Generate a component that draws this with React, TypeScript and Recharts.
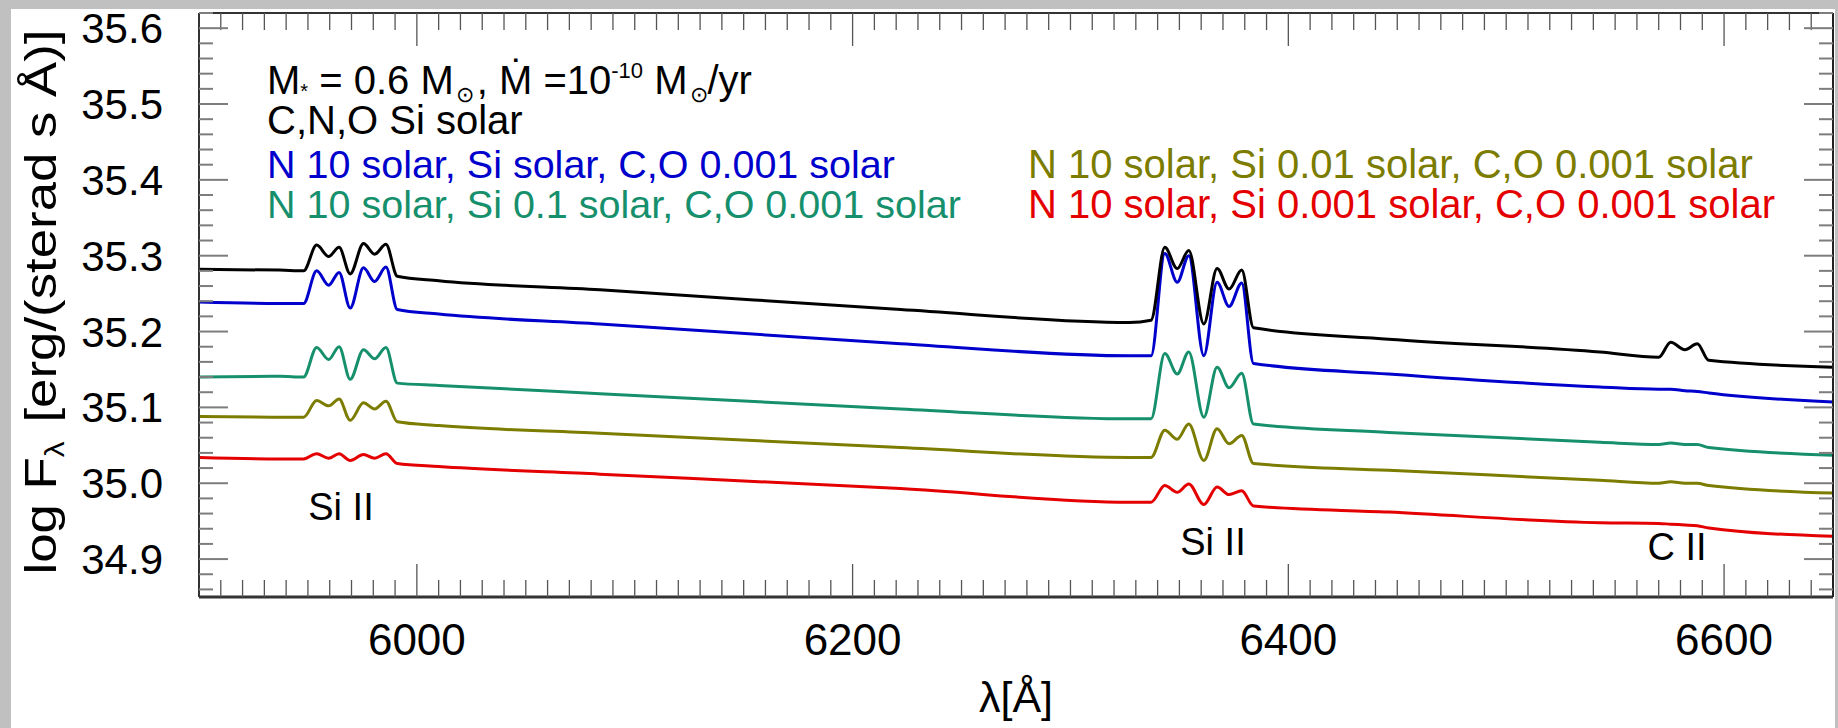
import React from "react"
import { LineChart, Line, XAxis, YAxis } from "recharts"

// Wavelength grid (Å) the spectra are sampled on
const wavelengths = [
  5900, 5937, 5948, 5954, 5959.5, 5964.3, 5969.4, 5975.5, 5980.6, 5985.8, 5991,
  6010, 6084, 6222, 6327, 6337, 6343.3, 6349, 6354.3, 6361.2, 6367.3, 6372.8,
  6378.6, 6384, 6446, 6543, 6570, 6575.5, 6582, 6587.7, 6593, 6650,
]

// log F_lambda for each abundance set
const fluxSolar = [
  35.282, 35.281, 35.28, 35.314, 35.299, 35.311, 35.276, 35.316, 35.302, 35.315, 35.273,
  35.267, 35.255, 35.229, 35.212, 35.215, 35.311, 35.283, 35.307, 35.21, 35.283, 35.256,
  35.281, 35.205, 35.19, 35.173, 35.166, 35.186, 35.176, 35.184, 35.162, 35.153,
]
const fluxNSiSolar = [
  35.239, 35.237, 35.237, 35.28, 35.261, 35.278, 35.231, 35.284, 35.266, 35.285, 35.229,
  35.223, 35.21, 35.184, 35.168, 35.168, 35.303, 35.265, 35.3, 35.168, 35.265, 35.233,
  35.264, 35.158, 35.144, 35.127, 35.124, 35.124, 35.122, 35.121, 35.119, 35.107,
]
const fluxSi01 = [
  35.14, 35.141, 35.14, 35.179, 35.163, 35.18, 35.137, 35.176, 35.164, 35.179, 35.132,
  35.129, 35.118, 35.098, 35.085, 35.085, 35.171, 35.144, 35.173, 35.087, 35.153, 35.126,
  35.145, 35.078, 35.067, 35.054, 35.051, 35.053, 35.051, 35.051, 35.047, 35.037,
]
const fluxSi001 = [
  35.088, 35.087, 35.087, 35.109, 35.102, 35.111, 35.083, 35.106, 35.098, 35.108, 35.081,
  35.076, 35.066, 35.047, 35.034, 35.034, 35.07, 35.058, 35.078, 35.03, 35.072, 35.052,
  35.063, 35.026, 35.017, 35.004, 35.0, 35.002, 35.0, 35.0, 34.997, 34.987,
]
const fluxSi0001 = [
  35.034, 35.032, 35.032, 35.039, 35.033, 35.039, 35.03, 35.038, 35.033, 35.039, 35.026,
  35.022, 35.012, 34.993, 34.975, 34.975, 34.997, 34.988, 34.999, 34.972, 34.995, 34.985,
  34.99, 34.97, 34.962, 34.948, 34.947, 34.946, 34.945, 34.944, 34.941, 34.93,
]

const xTickLabels = [6000, 6200, 6400, 6600]
const yTickLabels = [34.9, 35.0, 35.1, 35.2, 35.3, 35.4, 35.5, 35.6]

const X_DOMAIN: [number, number] = [5900, 6650]
const Y_DOMAIN: [number, number] = [34.85, 35.62]

const W = 1838
const H = 728
const PLOT_LEFT = 199
const PLOT_RIGHT = 1833
const PLOT_TOP = 13
const PLOT_BOTTOM = 597
const FONT = "'Liberation Sans', Arial, Helvetica, sans-serif"

const series = [
  { key: "si0001", color: "#e40000", values: fluxSi0001 },
  { key: "si001", color: "#7c7c00", values: fluxSi001 },
  { key: "si01", color: "#16906c", values: fluxSi01 },
  { key: "nsi", color: "#0000cc", values: fluxNSiSolar },
  { key: "solar", color: "#000000", values: fluxSolar },
]

const data = wavelengths.map((wl, i) => {
  const row: Record<string, number> = { wl }
  series.forEach((s) => (row[s.key] = s.values[i]))
  return row
})

// minor ticks every 10 Å and every 0.02 dex
const xTicks: number[] = []
for (let w = 5910; w <= 6640; w += 10) xTicks.push(w)
const yTicks: number[] = []
for (let k = 3486; k <= 3562; k += 2) yTicks.push(k / 100)

const isMajorX = (v: number) => xTickLabels.includes(v)
const isMajorY = (v: number) => yTickLabels.some((t) => Math.abs(t - v) < 1e-6)

const LeftTick = (props: any) => {
  const { y, payload } = props
  const major = isMajorY(payload.value)
  return (
    <g>
      <line x1={PLOT_LEFT} x2={PLOT_LEFT + (major ? 29 : 14)} y1={y} y2={y} stroke="#7d7d7d" strokeWidth={2} />
      {major && (
        <text x={163} y={y + 15} textAnchor="end" fontSize={42} fontFamily={FONT} fill="#000">
          {payload.value.toFixed(1)}
        </text>
      )}
    </g>
  )
}

const RightTick = (props: any) => {
  const { y, payload } = props
  const major = isMajorY(payload.value)
  return <line x1={PLOT_RIGHT - (major ? 29 : 14)} x2={PLOT_RIGHT} y1={y} y2={y} stroke="#7d7d7d" strokeWidth={2} />
}

const BottomTick = (props: any) => {
  const { x, payload } = props
  const major = isMajorX(payload.value)
  return (
    <g>
      <line x1={x} x2={x} y1={PLOT_BOTTOM} y2={PLOT_BOTTOM - (major ? 33 : 17)} stroke="#555" strokeWidth={1.3} />
      {major && (
        <text x={x} y={655} textAnchor="middle" fontSize={44} fontFamily={FONT} fill="#000">
          {payload.value}
        </text>
      )}
    </g>
  )
}

const TopTick = (props: any) => {
  const { x, payload } = props
  const major = isMajorX(payload.value)
  return <line x1={x} x2={x} y1={PLOT_TOP} y2={PLOT_TOP + (major ? 33 : 17)} stroke="#555" strokeWidth={1.3} />
}

const Annotations = () => (
  <svg width={W} height={H} style={{ position: "absolute", left: 0, top: 0, pointerEvents: "none" }} fontFamily={FONT}>
    <text x={267} y={93.5} fontSize={40} fill="#000">
      M<tspan fontSize={20} dy={4}>*</tspan>
      <tspan dy={-4}> = 0.6 M</tspan>
      <tspan fontSize={22} dy={8} dx={2}>⊙</tspan>
      <tspan dy={-8} dx={3}>, Ṁ =10</tspan>
      <tspan fontSize={22} dy={-16}>-10</tspan>
      <tspan dy={16}> M</tspan>
      <tspan fontSize={22} dy={8} dx={2}>⊙</tspan>
      <tspan dy={-8}>/yr</tspan>
    </text>
    <text x={267} y={134} fontSize={40} fill="#000">C,N,O Si solar</text>
    <text x={267} y={178} fontSize={39.5} fill="#0000cc">N 10 solar, Si solar, C,O 0.001 solar</text>
    <text x={267} y={218} fontSize={39.5} fill="#16906c">N 10 solar, Si 0.1 solar, C,O 0.001 solar</text>
    <text x={1028} y={178} fontSize={40} fill="#7c7c00">N 10 solar, Si 0.01 solar, C,O 0.001 solar</text>
    <text x={1028} y={218} fontSize={40} fill="#e40000">N 10 solar, Si 0.001 solar, C,O 0.001 solar</text>

    <text x={341} y={520} fontSize={38} textAnchor="middle" fill="#000">Si II</text>
    <text x={1213} y={555} fontSize={38} textAnchor="middle" fill="#000">Si II</text>
    <text x={1677} y={560} fontSize={38} textAnchor="middle" fill="#000">C II</text>

    <text x={1016} y={712} fontSize={43} textAnchor="middle" fill="#000">λ[Å]</text>
    <text
      transform="translate(56,302) rotate(-90)"
      textAnchor="middle"
      fontSize={45}
      fill="#000"
      textLength={545}
      lengthAdjust="spacingAndGlyphs"
    >
      log F<tspan fontSize={27} dy={8}>λ</tspan>
      <tspan dy={-8} dx={16}>[erg/(sterad s Å)]</tspan>
    </text>
  </svg>
)

export default function App() {
  return (
    <div style={{ position: "relative", width: W, height: H, background: "#c0c0c0", overflow: "hidden" }}>
      <style>{`body{margin:0}`}</style>
      <div style={{ position: "absolute", left: 11, top: 9, width: 1824, height: H - 9, background: "#fff" }} />
      <div style={{ position: "absolute", left: 0, top: 0 }}>
        <LineChart width={W} height={H} data={data} margin={{ top: 12, right: 0, bottom: 0, left: 0 }}>
          <XAxis
            dataKey="wl"
            type="number"
            domain={X_DOMAIN}
            allowDataOverflow
            ticks={xTicks}
            interval={0}
            height={H - PLOT_BOTTOM}
            tickLine={false}
            axisLine={{ stroke: "#333", strokeWidth: 3 }}
            tick={BottomTick}
          />
          <XAxis
            xAxisId="top"
            orientation="top"
            dataKey="wl"
            type="number"
            domain={X_DOMAIN}
            allowDataOverflow
            ticks={xTicks}
            interval={0}
            height={1}
            tickLine={false}
            axisLine={{ stroke: "#333", strokeWidth: 2 }}
            tick={TopTick}
          />
          <YAxis
            type="number"
            domain={Y_DOMAIN}
            allowDataOverflow
            ticks={yTicks}
            interval={0}
            width={PLOT_LEFT}
            tickLine={false}
            axisLine={{ stroke: "#333", strokeWidth: 2 }}
            tick={LeftTick}
          />
          <YAxis
            yAxisId="right"
            orientation="right"
            type="number"
            domain={Y_DOMAIN}
            allowDataOverflow
            ticks={yTicks}
            interval={0}
            width={W - PLOT_RIGHT}
            tickLine={false}
            axisLine={{ stroke: "#222", strokeWidth: 2 }}
            tick={RightTick}
          />
          {series.map((s) => (
            <Line
              key={s.key}
              dataKey={s.key}
              type="monotone"
              stroke={s.color}
              strokeWidth={3}
              dot={false}
              isAnimationActive={false}
            />
          ))}
        </LineChart>
      </div>
      <Annotations />
    </div>
  )
}
